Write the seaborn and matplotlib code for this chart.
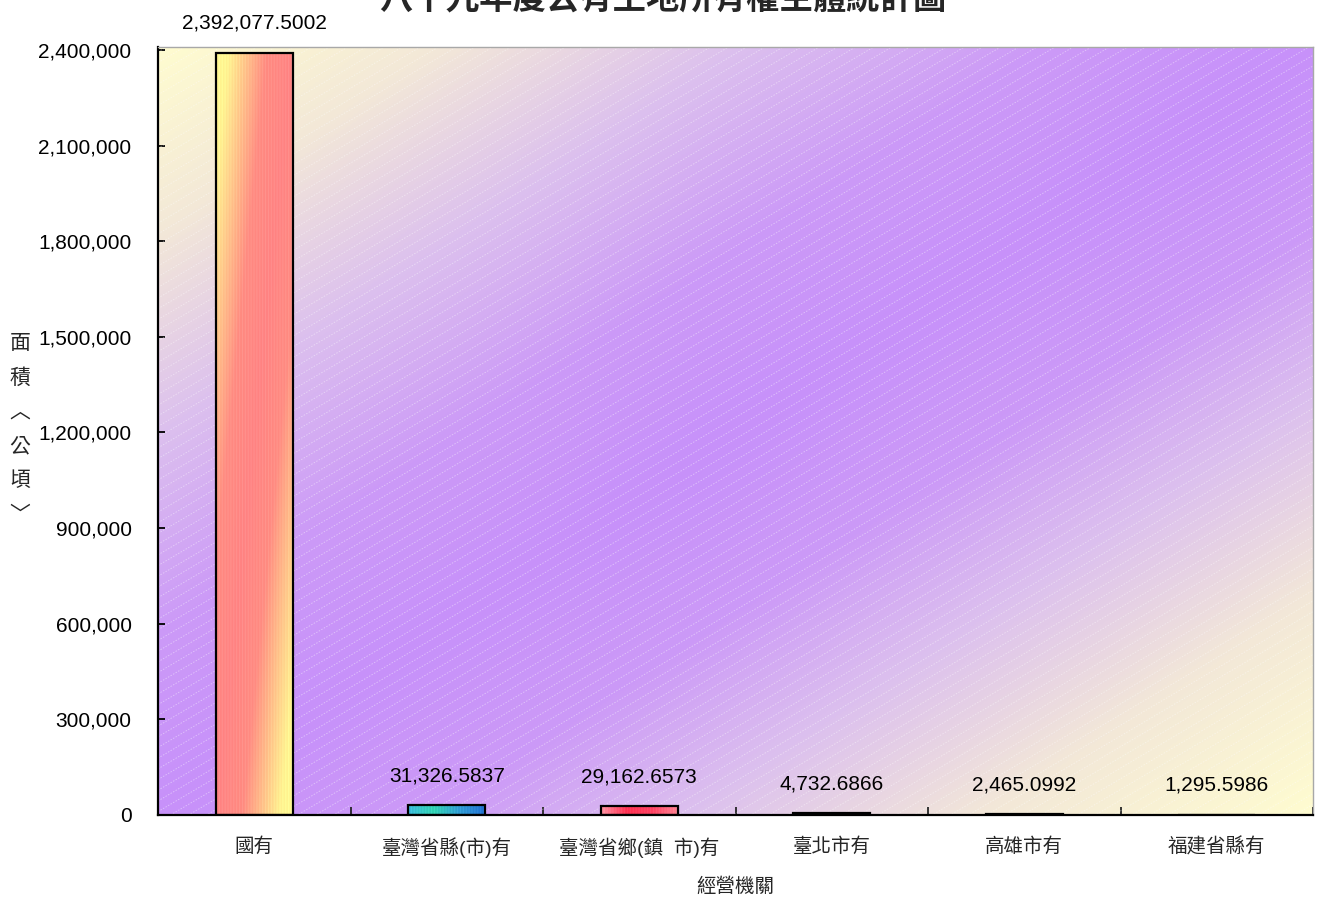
import numpy as np
import pandas as pd
import matplotlib
matplotlib.use("Agg")
import matplotlib.pyplot as plt
from matplotlib.colors import LinearSegmentedColormap
from matplotlib.ticker import FixedLocator, FuncFormatter
import seaborn as sns

# ---- data ----
categories = ["國有", "臺灣省縣(市)有", "臺灣省鄉(鎮  市)有", "臺北市有", "高雄市有", "福建省縣有"]
areas = [2392077.5002, 31326.5837, 29162.6573, 4732.6866, 2465.0992, 1295.5986]
value_labels = ["2,392,077.5002", "31,326.5837", "29,162.6573", "4,732.6866", "2,465.0992", "1,295.5986"]
y_ticks = [0, 300000, 600000, 900000, 1200000, 1500000, 1800000, 2100000, 2400000]

title = "八十九年度公有土地所有權主體統計圖"
x_title = "經營機關"
y_title = "面\n積\n︿\n公\n頃\n﹀"

sns.set_style("white")
plt.rcParams["font.family"] = ["Liberation Sans", "Noto Sans CJK TC", "DejaVu Sans"]

W, H = 1318, 902
fig = plt.figure(figsize=(W / 100, H / 100), dpi=100)
ax_l, ax_r, ax_t, ax_b = 158, 1313, 47, 815
ax = fig.add_axes([ax_l / W, 1 - ax_b / H, (ax_r - ax_l) / W, (ax_b - ax_t) / H])

df = pd.DataFrame({"category": categories, "area": areas})
palette = ["#ff9a80", "#30c0c0", "#ff4060", "#000000", "#000000", "#000000"]
sns.barplot(data=df, x="category", y="area", hue="category", palette=palette,
            width=0.4, legend=False, ax=ax, edgecolor="black", linewidth=1.6,
            saturation=1, zorder=3)

ax.set_xlim(-0.5, 5.5)
ax.set_ylim(0, 2409400)

# ---- plot-area background: diagonal two-tone gradient ----
bg_cmap = LinearSegmentedColormap.from_list("bg", [
    (0.0, "#fffcd0"), (0.12, "#f3e8d8"), (0.25, "#dcc0ee"), (0.38, "#cc9af7"),
    (0.5, "#c791fa"), (0.62, "#cc9af7"), (0.73, "#dcc0ee"), (0.86, "#f3e8d8"),
    (1.0, "#fffcd0")])
nx, ny = 600, 400
xx, yy = np.meshgrid(np.linspace(0, 1, nx), np.linspace(0, 1, ny))
ax.imshow(bg_cmap((xx + yy) / 2), extent=(0, 1, 0, 1), transform=ax.transAxes,
          aspect="auto", origin="upper", zorder=0, interpolation="bilinear")

# faint white diagonal hatch lines
pw, ph = ax_r - ax_l, ax_b - ax_t
slope, step = 0.59, 10.7
for c in np.arange(-slope * pw, ph + step, step):
    px = np.array([0, pw])
    py = slope * px + c
    ax.plot(px / pw, py / ph, transform=ax.transAxes, color="white", lw=0.7,
            ls=(0, (1.5, 1.5)), alpha=0.4, zorder=1, clip_on=True)

# ---- gradient fills inside the coloured bars ----
def grad_cmap(stops):
    return LinearSegmentedColormap.from_list("g", stops)

bar_fills = {
    0: (grad_cmap([(0, "#fff890"), (0.08, "#fff08e"), (0.33, "#ff8a80"),
                   (0.5, "#ff8282"), (0.67, "#ff8a80"), (0.92, "#fff08e"),
                   (1, "#fff890")]), "diag"),
    1: (grad_cmap(["#38b8d8", "#30d0b0", "#2e9ad0", "#2070d0"]), "horiz"),
    2: (grad_cmap(["#ff90a0", "#ff3050", "#ff4060", "#ff8090"]), "horiz"),
}
for i, patch in enumerate(ax.patches):
    if i not in bar_fills:
        continue
    cmap, mode = bar_fills[i]
    x0, y0 = patch.get_x(), patch.get_y()
    w, h = patch.get_width(), patch.get_height()
    gx, gy = np.meshgrid(np.linspace(0, 1, 80), np.linspace(0, 1, 300))
    t = (gx + gy) / 2 if mode == "diag" else gx
    img = cmap(t)
    # fine vertical striping
    stripes = (np.arange(80) % 3 == 0).astype(float)[None, :] * 0.05
    img[..., :3] = np.clip(img[..., :3] + stripes[..., None], 0, 1)
    im = ax.imshow(img, extent=(x0, x0 + w, y0, y0 + h), origin="upper",
                   aspect="auto", zorder=2.5, interpolation="bilinear")
    im.set_clip_path(patch)
    patch.set_facecolor("none")

# ---- value labels ----
for i, (v, lab) in enumerate(zip(areas, value_labels)):
    ax.annotate(lab, xy=(i, v), xytext=(0, 21), textcoords="offset points",
                ha="center", va="center", fontsize=15, color="black",
                annotation_clip=False, zorder=5)

# ---- axes styling ----
ax.yaxis.set_major_locator(FixedLocator(y_ticks))
ax.yaxis.set_major_formatter(FuncFormatter(lambda v, p: f"{int(v):,}"))
ax.tick_params(axis="y", direction="in", length=5, width=1.3, pad=19,
               labelsize=15, left=True, colors="black")

ax.xaxis.set_major_locator(FixedLocator(np.arange(0.5, 6, 1)))
ax.xaxis.set_major_formatter(FuncFormatter(lambda v, p: ""))
ax.set_xticks(np.arange(0, 6), categories, minor=True)
ax.tick_params(axis="x", which="major", direction="in", length=6, width=1.3, bottom=True)
ax.tick_params(axis="x", which="minor", length=0, pad=16, labelsize=14)

ax.set_xlabel(x_title, fontsize=14, labelpad=14)
ax.set_ylabel("")
fig.text(20 / W, 1 - 429 / H, y_title, ha="center", va="center", fontsize=15,
         linespacing=1.72, family=["Noto Sans CJK TC", "DejaVu Sans"])

for s in ["left", "bottom"]:
    ax.spines[s].set_color("black")
    ax.spines[s].set_linewidth(1.6)
for s in ["top", "right"]:
    ax.spines[s].set_color("#a8a8a8")
    ax.spines[s].set_linewidth(1.0)
for s in ax.spines.values():
    s.set_zorder(6)

fig.text(663 / W, 1.0, title, ha="center", va="center", fontsize=24,
         fontweight="bold", family=["Noto Sans CJK TC", "DejaVu Sans"])

fig.savefig("out.png", dpi=100, facecolor="white")
